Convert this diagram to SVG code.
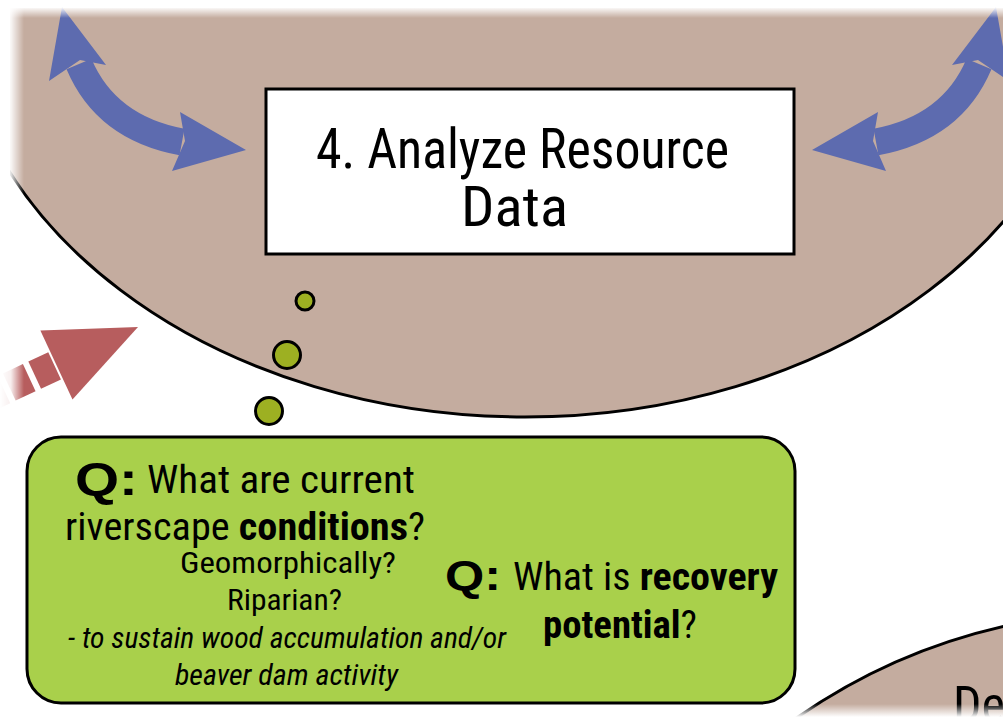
<svg xmlns="http://www.w3.org/2000/svg" width="1003" height="717" viewBox="0 0 1003 717">
  <style>
    .brown { fill: #C4AC9F; stroke: #000; stroke-width: 3; }
    .blue { fill: #5D6BAF; }
    .red { fill: #B75D5E; }
    .dot { fill: #9DB022; stroke: #000; stroke-width: 3; }
    .t { font-family: "Liberation Sans Narrow", "Roboto Condensed", "Liberation Sans", Arial, sans-serif; fill: #000; }
    .q { font-family: "Liberation Sans", Arial, sans-serif; font-weight: 900; fill: #000; }
  </style>
  <defs>
    <clipPath id="topclip"><rect x="10" y="8" width="1000" height="720"/></clipPath>
    <linearGradient id="fadeTop" x1="0" y1="0" x2="0" y2="1">
      <stop offset="0" stop-color="#fff" stop-opacity="1"/>
      <stop offset="0.45" stop-color="#fff" stop-opacity="0.9"/>
      <stop offset="1" stop-color="#fff" stop-opacity="0"/>
    </linearGradient>
    <linearGradient id="fadeLeft" x1="0" y1="0" x2="1" y2="0">
      <stop offset="0" stop-color="#fff" stop-opacity="1"/>
      <stop offset="0.45" stop-color="#fff" stop-opacity="0.9"/>
      <stop offset="1" stop-color="#fff" stop-opacity="0"/>
    </linearGradient>
    <linearGradient id="fadeBot" x1="0" y1="0" x2="0" y2="1">
      <stop offset="0" stop-color="#fff" stop-opacity="0"/>
      <stop offset="1" stop-color="#fff" stop-opacity="1"/>
    </linearGradient>
  </defs>

  <!-- big circle (step 4) -->
  <g id="circle4" clip-path="url(#topclip)">
    <ellipse class="brown" cx="525" cy="-16" rx="572" ry="433"/>
  </g>

  <!-- bottom-right circle -->
  <g id="circle5">
    <path class="brown" d="M 795,719 A 590,590 0 0 1 1005,626 L 1005,719 Z"/>
    <text class="t" x="953" y="722" font-size="50">De</text>
  </g>

  <!-- connectors -->
  <g id="connectors">
    <g id="arrowLeft">
      <path d="M 79,64 Q 106,128 182,142" fill="none" stroke="#5D6BAF" stroke-width="27"/>
      <polygon class="blue" points="62,7 106,65 80,60 49,81"/>
      <polygon class="blue" points="246,150 180,112 185,141 172,171"/>
    </g>
    <g id="arrowRight" transform="translate(1058,0) scale(-1,1)">
      <path d="M 79,64 Q 106,128 182,142" fill="none" stroke="#5D6BAF" stroke-width="27"/>
      <polygon class="blue" points="62,7 106,65 80,60 49,81"/>
      <polygon class="blue" points="246,150 180,112 185,141 172,171"/>
    </g>
    <g id="arrowRed" transform="translate(138,327) rotate(-25)">
      <rect class="red" x="-114" y="-15" width="22" height="30"/>
      <rect class="red" x="-142" y="-15" width="22" height="30"/>
      <rect class="red" x="-170" y="-15" width="22" height="30"/>
      <polygon class="red" points="0,0 -90,-38 -90,38"/>
    </g>
    <g id="bubbles">
      <circle class="dot" cx="305" cy="301" r="9"/>
      <circle class="dot" cx="287" cy="355" r="13.5"/>
      <circle class="dot" cx="269" cy="411" r="13.5"/>
    </g>
  </g>

  <!-- fades at image edges -->
  <rect x="0" y="0" width="1003" height="18" fill="url(#fadeTop)"/>
  <rect x="0" y="0" width="24" height="430" fill="url(#fadeLeft)"/>
  <rect x="780" y="704" width="223" height="13" fill="url(#fadeBot)"/>

  <!-- step box -->
  <g id="step4">
    <rect x="266" y="89" width="528" height="165" fill="#fff" stroke="#000" stroke-width="3"/>
    <text class="t" x="316" y="168" font-size="55" textLength="413" lengthAdjust="spacingAndGlyphs">4. Analyze Resource</text>
    <text class="t" x="461" y="226" font-size="55" textLength="107" lengthAdjust="spacingAndGlyphs">Data</text>
  </g>

  <!-- questions box -->
  <g id="questions">
    <rect x="27" y="437" width="768" height="266" rx="34" ry="34" fill="#A9D04B" stroke="#000" stroke-width="3"/>
    <text class="q" x="75" y="495" font-size="46" textLength="63" lengthAdjust="spacingAndGlyphs">Q:</text>
    <text class="t" x="147" y="493" font-size="38" textLength="268" lengthAdjust="spacingAndGlyphs">What are current</text>
    <text class="t" x="65" y="540" font-size="38" textLength="360" lengthAdjust="spacingAndGlyphs">riverscape <tspan font-weight="bold">conditions</tspan>?</text>
    <text class="t" x="180" y="573" font-size="29" textLength="216" lengthAdjust="spacingAndGlyphs">Geomorphically?</text>
    <text class="t" x="227" y="610" font-size="29" textLength="115" lengthAdjust="spacingAndGlyphs">Riparian?</text>
    <text class="t" x="68" y="648" font-size="29" font-style="italic" textLength="438" lengthAdjust="spacingAndGlyphs">- to sustain wood accumulation and/or</text>
    <text class="t" x="175" y="685" font-size="29" font-style="italic" textLength="223" lengthAdjust="spacingAndGlyphs">beaver dam activity</text>
    <text class="q" x="445" y="590" font-size="42" textLength="56" lengthAdjust="spacingAndGlyphs">Q:</text>
    <text class="t" x="513" y="590" font-size="38" textLength="265" lengthAdjust="spacingAndGlyphs">What is <tspan font-weight="bold">recovery</tspan></text>
    <text class="t" x="543" y="638" font-size="38" textLength="154" lengthAdjust="spacingAndGlyphs"><tspan font-weight="bold">potential</tspan>?</text>
  </g>
</svg>
